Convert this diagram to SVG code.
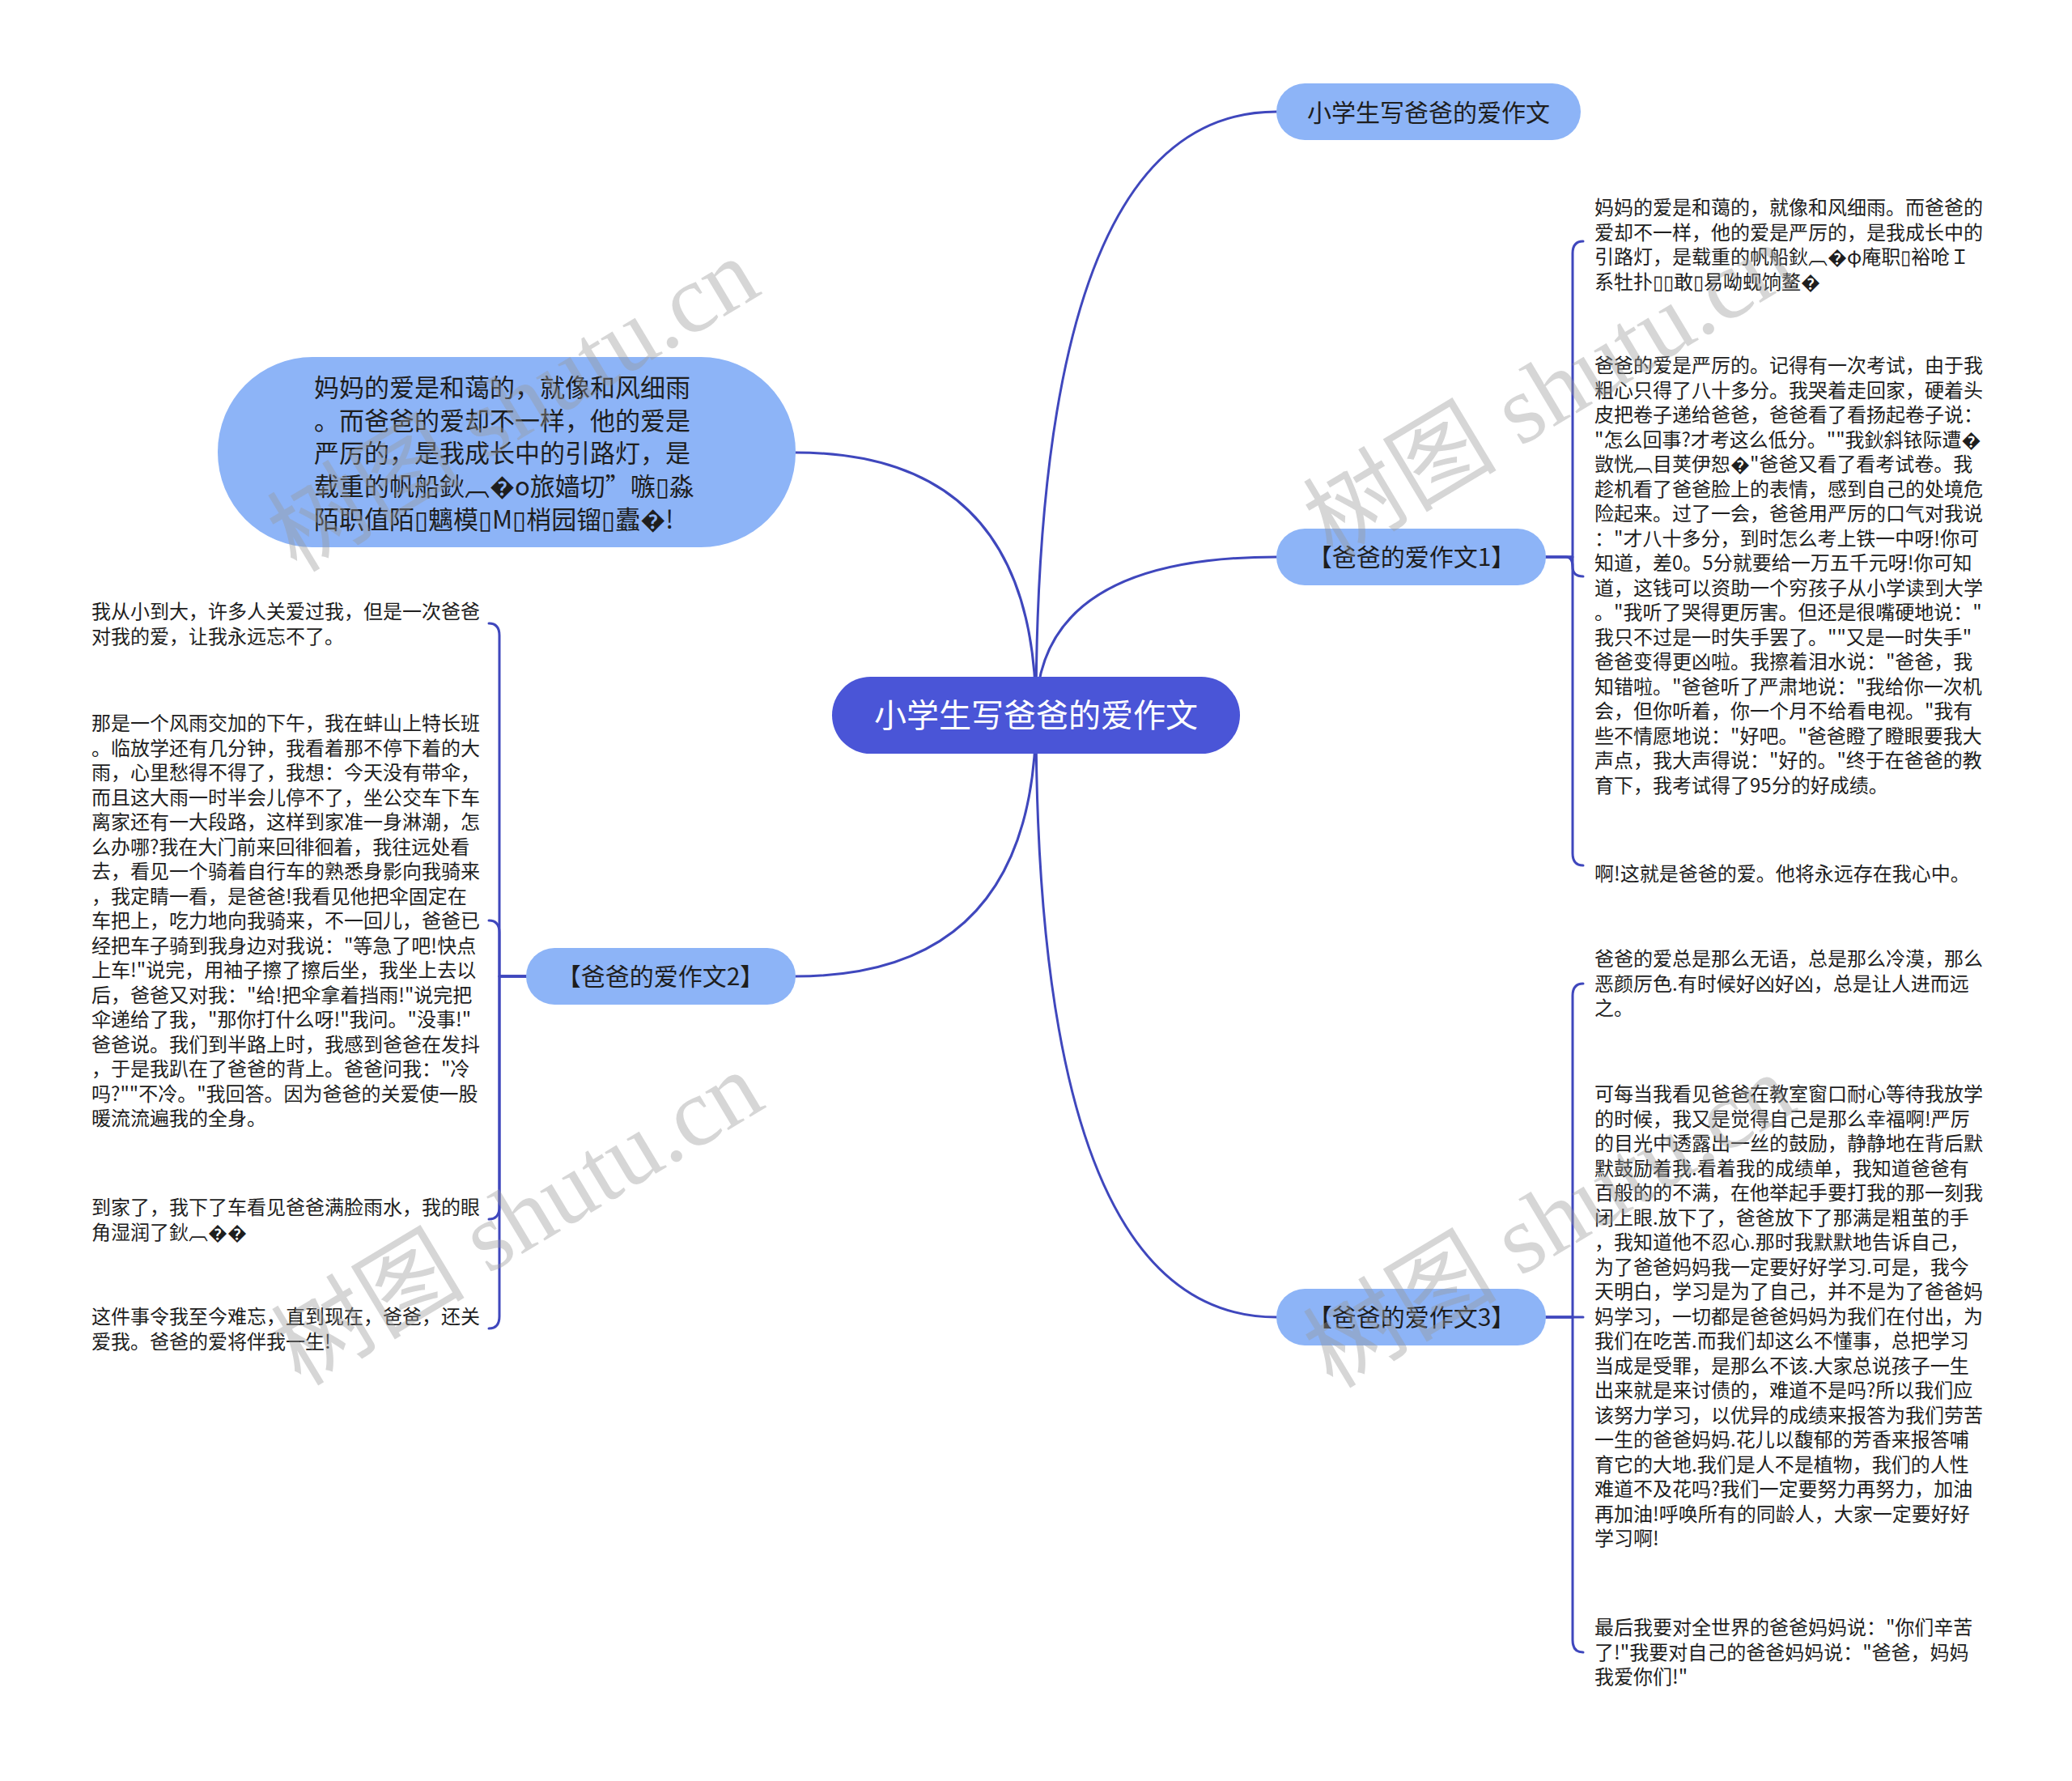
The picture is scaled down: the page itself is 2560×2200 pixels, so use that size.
<svg xmlns="http://www.w3.org/2000/svg" width="2560" height="2200" viewBox="0 0 2560 2200">
<defs>
<style>
.conn{fill:none;stroke:#3f47bd;stroke-width:3;stroke-linecap:round;stroke-linejoin:round}
.t{font-family:"Noto Sans CJK SC","Noto Sans",sans-serif;fill:#1e1e1e}
.txt{font-size:24px}
.node{fill:#8db4f7}
.lbl{font-size:30px;text-anchor:middle}
.wm{font-family:"Liberation Serif","Noto Sans CJK SC",serif;font-size:120px;fill:#999;fill-opacity:0.4}
</style>
</defs>
<rect width="2560" height="2200" fill="#fff"/>
<g id="connectors">
<path class="conn" d="M1280 883 Q1280 138 1577 138"/>
<path class="conn" d="M1280 883 Q1280 688 1577 688"/>
<path class="conn" d="M1280 883 Q1280 559 983 559"/>
<path class="conn" d="M1280 883 Q1280 1206 983 1206"/>
<path class="conn" d="M1280 883 Q1280 1627 1577 1627"/>
<path class="conn" d="M1910 688 H1943 V313 Q1943 298 1956 298"/>
<path class="conn" d="M1910 688 H1935 Q1943 688 1943 700 Q1943 712 1956 712"/>
<path class="conn" d="M1910 688 H1943 V1054 Q1943 1069 1956 1069"/>
<path class="conn" d="M1910 1627 H1943 V1230 Q1943 1215 1956 1215"/>
<path class="conn" d="M1910 1627 H1956"/>
<path class="conn" d="M1910 1627 H1943 V2026 Q1943 2041 1956 2041"/>
<path class="conn" d="M650 1206 H617 V785 Q617 770 604 770"/>
<path class="conn" d="M650 1206 H617 V1152 Q617 1137 604 1137"/>
<path class="conn" d="M650 1206 H617 V1491 Q617 1506 604 1506"/>
<path class="conn" d="M650 1206 H617 V1626 Q617 1641 604 1641"/>
</g>
<g id="root">
<rect x="1028" y="836" width="504" height="95" rx="47.5" fill="#4a55d7"/>
<text class="t" x="1280" y="898" font-size="40" text-anchor="middle" style="fill:#fff">小学生写爸爸的爱作文</text>
</g>
<g id="n-top">
<rect class="node" x="1577" y="103" width="376" height="70" rx="35"/>
<text class="t lbl" x="1765" y="150">小学生写爸爸的爱作文</text>
</g>
<g id="n-1">
<rect class="node" x="1577" y="653" width="333" height="70" rx="35"/>
<text class="t lbl" x="1744" y="699">【爸爸的爱作文1】</text>
</g>
<g id="n-2">
<rect class="node" x="650" y="1171" width="333" height="70" rx="35"/>
<text class="t lbl" x="816" y="1217">【爸爸的爱作文2】</text>
</g>
<g id="n-3">
<rect class="node" x="1577" y="1592" width="333" height="70" rx="35"/>
<text class="t lbl" x="1744" y="1638">【爸爸的爱作文3】</text>
</g>
<g id="n-bubble">
<rect class="node" x="269" y="441" width="714" height="235" rx="117"/>
<text class="t" font-size="31">
<tspan x="388" y="490">妈妈的爱是和蔼的，就像和风细雨</tspan>
<tspan x="388" y="531">。而爸爸的爱却不一样，他的爱是</tspan>
<tspan x="388" y="571">严厉的，是我成长中的引路灯，是</tspan>
<tspan x="388" y="612">载重的帆船鈥︹�o旅嫱切”嗾▯淼</tspan>
<tspan x="388" y="653">陌职值陌▯魑模▯M▯梢园镏▯蠹�!</tspan>
</text>
</g>
<g id="r-1">
<text class="t txt">
<tspan x="1970" y="265">妈妈的爱是和蔼的，就像和风细雨。而爸爸的</tspan>
<tspan x="1970" y="295.5">爱却不一样，他的爱是严厉的，是我成长中的</tspan>
<tspan x="1970" y="326">引路灯，是载重的帆船鈥︹�φ庵职▯裕呛Ｉ</tspan>
<tspan x="1970" y="356.5">系牡扑▯▯敢▯易呦蚬饷鳌�</tspan>
</text>
</g>
<g id="r-2">
<text class="t txt">
<tspan x="1970" y="460">爸爸的爱是严厉的。记得有一次考试，由于我</tspan>
<tspan x="1970" y="490.5">粗心只得了八十多分。我哭着走回家，硬着头</tspan>
<tspan x="1970" y="521">皮把卷子递给爸爸，爸爸看了看扬起卷子说：</tspan>
<tspan x="1970" y="551.5">"怎么回事?才考这么低分。""我鈥斜铱际遭�</tspan>
<tspan x="1970" y="582">敳恍︹目荚伊恕�"爸爸又看了看考试卷。我</tspan>
<tspan x="1970" y="612.5">趁机看了爸爸脸上的表情，感到自己的处境危</tspan>
<tspan x="1970" y="643">险起来。过了一会，爸爸用严厉的口气对我说</tspan>
<tspan x="1970" y="673.5">："才八十多分，到时怎么考上铁一中呀!你可</tspan>
<tspan x="1970" y="704">知道，差0。5分就要给一万五千元呀!你可知</tspan>
<tspan x="1970" y="734.5">道，这钱可以资助一个穷孩子从小学读到大学</tspan>
<tspan x="1970" y="765">。"我听了哭得更厉害。但还是很嘴硬地说："</tspan>
<tspan x="1970" y="795.5">我只不过是一时失手罢了。""又是一时失手"</tspan>
<tspan x="1970" y="826">爸爸变得更凶啦。我擦着泪水说："爸爸，我</tspan>
<tspan x="1970" y="856.5">知错啦。"爸爸听了严肃地说："我给你一次机</tspan>
<tspan x="1970" y="887">会，但你听着，你一个月不给看电视。"我有</tspan>
<tspan x="1970" y="917.5">些不情愿地说："好吧。"爸爸瞪了瞪眼要我大</tspan>
<tspan x="1970" y="948">声点，我大声得说："好的。"终于在爸爸的教</tspan>
<tspan x="1970" y="978.5">育下，我考试得了95分的好成绩。</tspan>
</text>
</g>
<g id="r-3">
<text class="t txt" x="1970" y="1088">啊!这就是爸爸的爱。他将永远存在我心中。</text>
</g>
<g id="r-4">
<text class="t txt">
<tspan x="1970" y="1193">爸爸的爱总是那么无语，总是那么冷漠，那么</tspan>
<tspan x="1970" y="1223.5">恶颜厉色.有时候好凶好凶，总是让人进而远</tspan>
<tspan x="1970" y="1254">之。</tspan>
</text>
</g>
<g id="r-5">
<text class="t txt">
<tspan x="1970" y="1360">可每当我看见爸爸在教室窗口耐心等待我放学</tspan>
<tspan x="1970" y="1390.5">的时候，我又是觉得自己是那么幸福啊!严厉</tspan>
<tspan x="1970" y="1421">的目光中透露出一丝的鼓励，静静地在背后默</tspan>
<tspan x="1970" y="1451.5">默鼓励着我.看着我的成绩单，我知道爸爸有</tspan>
<tspan x="1970" y="1482">百般的的不满，在他举起手要打我的那一刻我</tspan>
<tspan x="1970" y="1512.5">闭上眼.放下了，爸爸放下了那满是粗茧的手</tspan>
<tspan x="1970" y="1543">，我知道他不忍心.那时我默默地告诉自己，</tspan>
<tspan x="1970" y="1573.5">为了爸爸妈妈我一定要好好学习.可是，我今</tspan>
<tspan x="1970" y="1604">天明白，学习是为了自己，并不是为了爸爸妈</tspan>
<tspan x="1970" y="1634.5">妈学习，一切都是爸爸妈妈为我们在付出，为</tspan>
<tspan x="1970" y="1665">我们在吃苦.而我们却这么不懂事，总把学习</tspan>
<tspan x="1970" y="1695.5">当成是受罪，是那么不该.大家总说孩子一生</tspan>
<tspan x="1970" y="1726">出来就是来讨债的，难道不是吗?所以我们应</tspan>
<tspan x="1970" y="1756.5">该努力学习，以优异的成绩来报答为我们劳苦</tspan>
<tspan x="1970" y="1787">一生的爸爸妈妈.花儿以馥郁的芳香来报答哺</tspan>
<tspan x="1970" y="1817.5">育它的大地.我们是人不是植物，我们的人性</tspan>
<tspan x="1970" y="1848">难道不及花吗?我们一定要努力再努力，加油</tspan>
<tspan x="1970" y="1878.5">再加油!呼唤所有的同龄人，大家一定要好好</tspan>
<tspan x="1970" y="1909">学习啊!</tspan>
</text>
</g>
<g id="r-6">
<text class="t txt">
<tspan x="1970" y="2019">最后我要对全世界的爸爸妈妈说："你们辛苦</tspan>
<tspan x="1970" y="2049.5">了!"我要对自己的爸爸妈妈说："爸爸，妈妈</tspan>
<tspan x="1970" y="2080">我爱你们!"</tspan>
</text>
</g>
<g id="l-1">
<text class="t txt">
<tspan x="113" y="764">我从小到大，许多人关爱过我，但是一次爸爸</tspan>
<tspan x="113" y="794.5">对我的爱，让我永远忘不了。</tspan>
</text>
</g>
<g id="l-2">
<text class="t txt">
<tspan x="113" y="902">那是一个风雨交加的下午，我在蚌山上特长班</tspan>
<tspan x="113" y="932.5">。临放学还有几分钟，我看着那不停下着的大</tspan>
<tspan x="113" y="963">雨，心里愁得不得了，我想：今天没有带伞，</tspan>
<tspan x="113" y="993.5">而且这大雨一时半会儿停不了，坐公交车下车</tspan>
<tspan x="113" y="1024">离家还有一大段路，这样到家准一身淋潮，怎</tspan>
<tspan x="113" y="1054.5">么办哪?我在大门前来回徘徊着，我往远处看</tspan>
<tspan x="113" y="1085">去，看见一个骑着自行车的熟悉身影向我骑来</tspan>
<tspan x="113" y="1115.5">，我定睛一看，是爸爸!我看见他把伞固定在</tspan>
<tspan x="113" y="1146">车把上，吃力地向我骑来，不一回儿，爸爸已</tspan>
<tspan x="113" y="1176.5">经把车子骑到我身边对我说："等急了吧!快点</tspan>
<tspan x="113" y="1207">上车!"说完，用袖子擦了擦后坐，我坐上去以</tspan>
<tspan x="113" y="1237.5">后，爸爸又对我："给!把伞拿着挡雨!"说完把</tspan>
<tspan x="113" y="1268">伞递给了我，"那你打什么呀!"我问。"没事!"</tspan>
<tspan x="113" y="1298.5">爸爸说。我们到半路上时，我感到爸爸在发抖</tspan>
<tspan x="113" y="1329">，于是我趴在了爸爸的背上。爸爸问我："冷</tspan>
<tspan x="113" y="1359.5">吗?""不冷。"我回答。因为爸爸的关爱使一股</tspan>
<tspan x="113" y="1390">暖流流遍我的全身。</tspan>
</text>
</g>
<g id="l-3">
<text class="t txt">
<tspan x="113" y="1500">到家了，我下了车看见爸爸满脸雨水，我的眼</tspan>
<tspan x="113" y="1530.5">角湿润了鈥︹��</tspan>
</text>
</g>
<g id="l-4">
<text class="t txt">
<tspan x="113" y="1635">这件事令我至今难忘，直到现在，爸爸，还关</tspan>
<tspan x="113" y="1665.5">爱我。爸爸的爱将伴我一生!</tspan>
</text>
</g>
<g id="watermarks">
<text class="wm" transform="translate(655 535) rotate(-31)" text-anchor="middle">树图 shutu.cn</text>
<text class="wm" transform="translate(1935 518) rotate(-31)" text-anchor="middle">树图 shutu.cn</text>
<text class="wm" transform="translate(660 1540) rotate(-31)" text-anchor="middle">树图 shutu.cn</text>
<text class="wm" transform="translate(1935 1543) rotate(-31)" text-anchor="middle">树图 shutu.cn</text>
</g>
</svg>
